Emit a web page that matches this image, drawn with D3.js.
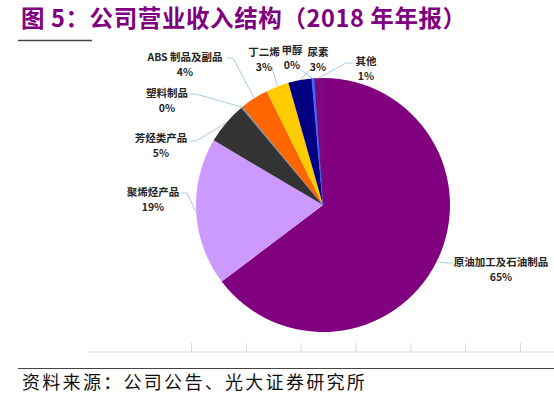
<!DOCTYPE html>
<html>
<head>
<meta charset="utf-8">
<script src="https://cdn.jsdelivr.net/npm/d3@7"></script>
<style>
  body { margin: 0; background: #fff; }
  svg { display: block; }
</style>
</head>
<body>
<script>
// revenue breakdown pie (2018 annual report)
const categories = ['原油加工及石油制品', '聚烯烃产品', '芳烃类产品', '塑料制品', 'ABS 制品及副品', '丁二烯', '尿素', '甲醇', '其他'];
const shares = [64.7, 18.8, 5.4, 0.2, 3.6, 2.9, 3.0, 0.3, 1.1];
const colors = ['#800080', '#cc99ff', '#333333', '#8c8c8c', '#ff6600', '#ffcc00', '#000080', '#3366ff', '#7d0a7d'];
const axisTicks = [0, 1, 2, 3, 4, 5, 6];

// label layout: text centre x, first line y, leader start x, y, elbow x
const labelAt = [
  [501, 266, 453, 263, 447],
  [153, 196, 181, 193, 187],
  [161, 142, 190, 141, 196],
  [167, 97, 190, 94, 196],
  [185, 61, 227, 58, 233],
  [264, 56, 272, 67, 272],
  [318, 56, 310, 70, 310],
  [292, 54, 301, 70, 301],
  [366, 65, 353, 63, 346]
];

const width = 554, height = 393;
const cx = 323, cy = 205, r = 127;

const svg = d3.select('body')
  .append('svg')
  .attr('width', width)
  .attr('height', height);

// title
svg.append('text')
  .attr('x', 21)
  .attr('y', 27)
  .attr('fill', '#800080')
  .style('font-family', '"Noto Sans CJK SC", "Liberation Sans", sans-serif')
  .style('font-weight', 'bold')
  .style('font-size', '23.5px')
  .style('letter-spacing', '0.6px')
  .text('图 5：公司营业收入结构（2018 年年报）');

svg.append('line')
  .attr('x1', 18).attr('x2', 92)
  .attr('y1', 40.5).attr('y2', 40.5)
  .attr('stroke', '#444').attr('stroke-width', 1.5);

// faint category axis left over from the source chart
const scaleX = d3.scaleLinear().domain([0, 6]).range([191, 520]);
const axisG = svg.append('g')
  .attr('transform', 'translate(0,352)')
  .call(d3.axisTop(scaleX).tickValues(axisTicks).tickSize(9).tickSizeOuter(0).tickFormat(''));
axisG.select('.domain').remove();
axisG.selectAll('line').attr('stroke', '#d9d9d9');
axisG.append('line')
  .attr('x1', 87).attr('x2', width)
  .attr('stroke', '#d9d9d9');

// pie
const pie = d3.pie().sort(null).value(d => d)(shares);
const arc = d3.arc().innerRadius(0).outerRadius(r);
const total = d3.sum(shares);

const g = svg.append('g').attr('transform', `translate(${cx},${cy})`);
g.selectAll('path')
  .data(pie)
  .enter()
  .append('path')
  .attr('d', arc)
  .attr('fill', (d, i) => colors[i])
  .attr('stroke', (d, i) => (shares[i] < 0.5 ? colors[i] : 'none'))
  .attr('stroke-width', 0.8);

// leader lines
const edge = d => {
  const a = (d.startAngle + d.endAngle) / 2;
  return [cx + Math.sin(a) * r, cy - Math.cos(a) * r];
};
svg.selectAll('.leader')
  .data(pie)
  .enter()
  .append('polyline')
  .attr('class', 'leader')
  .attr('fill', 'none')
  .attr('stroke', '#a9cbe8')
  .attr('stroke-width', 1)
  .attr('points', (d, i) => {
    const p = labelAt[i];
    const e = edge(d);
    return [[p[2], p[3]], [p[4], p[3]], e].map(q => q.join(',')).join(' ');
  });

// labels
const fmt = d3.format('.0%');
const labels = svg.selectAll('.lab')
  .data(pie)
  .enter()
  .append('text')
  .attr('class', 'lab')
  .attr('text-anchor', 'middle')
  .attr('fill', '#262626')
  .style('font-family', '"Noto Sans CJK SC", "Liberation Sans", sans-serif')
  .style('font-weight', 'bold')
  .style('font-size', '10.5px');
labels.append('tspan')
  .attr('x', (d, i) => labelAt[i][0])
  .attr('y', (d, i) => labelAt[i][1])
  .text((d, i) => categories[i]);
labels.append('tspan')
  .attr('x', (d, i) => labelAt[i][0])
  .attr('y', (d, i) => labelAt[i][1] + 15)
  .text(d => fmt(d.value / total));

// footer
svg.append('line')
  .attr('x1', 18).attr('x2', width)
  .attr('y1', 368.5).attr('y2', 368.5)
  .attr('stroke', '#444').attr('stroke-width', 1.2);

svg.append('text')
  .attr('x', 22)
  .attr('y', 389)
  .attr('fill', '#111')
  .style('font-family', '"Noto Sans CJK SC", sans-serif')
  .style('font-size', '18px')
  .style('letter-spacing', '2.3px')
  .text('资料来源：公司公告、光大证券研究所');
</script>
</body>
</html>
